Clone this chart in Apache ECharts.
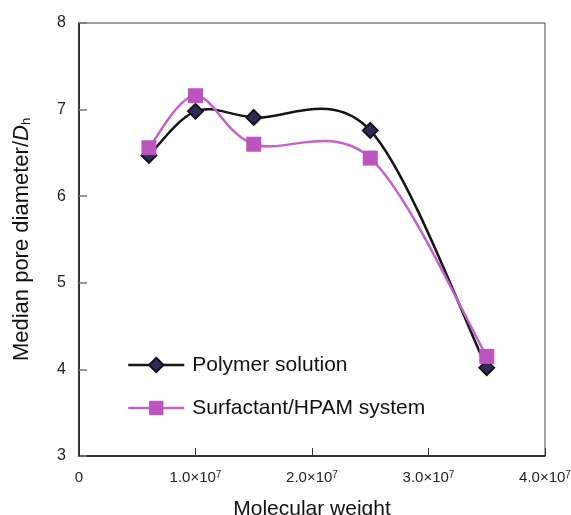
<!DOCTYPE html>
<html>
<head>
<meta charset="utf-8">
<script src="https://cdn.jsdelivr.net/npm/echarts@6/dist/echarts.min.js"></script>
<style>
	html, body { margin: 0; padding: 0; background: #fff; }
	#chart { width: 571px; height: 515px; }
</style>
</head>
<body>
<div id="chart"></div>
<script>
	// molecular weight of each sample
	var molWeight = [6e6, 1e7, 1.5e7, 2.5e7, 3.5e7];
	var polymerSolution = [6.47, 6.98, 6.91, 6.76, 4.02];
	var surfactantHpam = [6.56, 7.16, 6.60, 6.44, 4.15];
	var seriesNames = ['Polymer solution', 'Surfactant/HPAM system'];
	var xTickLabels = ['0', '1.0×10|7', '2.0×10|7', '3.0×10|7', '4.0×10|7'];

	var black = '#151515';
	var violet = '#c163c8';

	function pairs(xs, ys) {
		var out = [];
		for (var i = 0; i < xs.length; i++) {
			out.push([xs[i], ys[i]]);
		}
		return out;
	}

	function dist(a, b) {
		return Math.sqrt((a[0] - b[0]) * (a[0] - b[0]) + (a[1] - b[1]) * (a[1] - b[1]));
	}

	// spreadsheet-style smoothed segment between point i and i+1 (pixel space)
	function splineSeries(ys, color, z) {
		return {
			type: 'custom',
			silent: true,
			z: z,
			data: pairs(molWeight, ys),
			encode: { x: 0, y: 1 },
			renderItem: function (params, api) {
				var i = params.dataIndex;
				var n = ys.length;
				if (i >= n - 1) return;
				var pts = [];
				for (var j = 0; j < n; j++) {
					pts.push(api.coord([molWeight[j], ys[j]]));
				}
				var p0 = pts[Math.max(i - 1, 0)], p1 = pts[i], p2 = pts[i + 1], p3 = pts[Math.min(i + 2, n - 1)];
				var d02 = dist(p0, p2), d12 = dist(p1, p2), d13 = dist(p1, p3);
				var f0 = 1 / 6, f1 = 1 / 6;
				if (d02 / 6 >= d12 / 2 && d02 > 0) f0 = d12 / 2 / d02;
				if (d13 / 6 >= d12 / 2 && d13 > 0) f1 = d12 / 2 / d13;
				return {
					type: 'bezierCurve',
					shape: {
						x1: p1[0], y1: p1[1],
						x2: p2[0], y2: p2[1],
						cpx1: p1[0] + f0 * (p2[0] - p0[0]),
						cpy1: p1[1] + f0 * (p2[1] - p0[1]),
						cpx2: p2[0] - f1 * (p3[0] - p1[0]),
						cpy2: p2[1] - f1 * (p3[1] - p1[1])
					},
					style: { stroke: color, lineWidth: 2.5, fill: 'none' }
				};
			}
		};
	}

	var chart = echarts.init(document.getElementById('chart'));
	var font = 'Liberation Sans, Arial, sans-serif';

	var option = {
		animation: false,
		backgroundColor: '#fff',
		grid: {
			left: 79,
			right: 26,
			top: 23,
			bottom: 59,
			outerBoundsMode: 'none',
			containLabel: false,
			show: true,
			borderColor: '#444',
			borderWidth: 1
		},
		legend: {
			orient: 'vertical',
			left: 127,
			top: 354,
			padding: 0,
			itemWidth: 56,
			itemHeight: 18,
			itemGap: 21,
			data: [
				{ name: seriesNames[0], lineStyle: { color: black, width: 2.5, opacity: 1 } },
				{ name: seriesNames[1], lineStyle: { color: violet, width: 2.5, opacity: 1 } }
			],
			textStyle: {
				fontFamily: font,
				fontSize: 21,
				color: '#111',
				lineHeight: 22,
				padding: [0, 0, 0, 3]
			}
		},
		xAxis: {
			type: 'value',
			min: 0,
			max: 4e7,
			interval: 1e7,
			name: 'Molecular weight',
			nameLocation: 'middle',
			nameGap: 43,
			nameTextStyle: { fontFamily: font, fontSize: 21, color: '#111' },
			axisLine: { show: true, lineStyle: { color: '#111', width: 1.5 } },
			axisTick: { show: true, inside: true, length: 8, lineStyle: { color: '#333', width: 1 } },
			splitLine: { show: false },
			axisLabel: {
				margin: 14,
				formatter: function (v) {
					var t = xTickLabels[Math.round(v / 1e7)];
					var p = t.split('|');
					if (p.length === 1) return '{b|' + p[0] + '}';
					return '{b|' + p[0] + '}{s|' + p[1] + '}';
				},
				rich: {
					b: { fontFamily: font, fontSize: 15, color: '#222' },
					s: { fontFamily: font, fontSize: 10, color: '#222', verticalAlign: 'top', padding: [0, 0, 6, 0] }
				}
			}
		},
		yAxis: {
			type: 'value',
			min: 3,
			max: 8,
			interval: 1,
			name: '{n|Median pore diameter/}{i|D}{h|h}',
			nameLocation: 'middle',
			nameGap: 46,
			nameTextStyle: {
				rich: {
					n: { fontFamily: font, fontSize: 22, color: '#111' },
					i: { fontFamily: font, fontSize: 22, color: '#111', fontStyle: 'italic' },
					h: { fontFamily: font, fontSize: 13, color: '#111', verticalAlign: 'bottom', padding: [10, 0, 0, 0] }
				}
			},
			axisLine: { show: true, lineStyle: { color: '#111', width: 1.5 } },
			axisTick: { show: true, inside: true, length: 8, lineStyle: { color: '#777', width: 1.5 } },
			splitLine: { show: false },
			axisLabel: { margin: 13, fontFamily: font, fontSize: 16, color: '#222' }
		},
		series: [
			splineSeries(polymerSolution, black, 1),
			splineSeries(surfactantHpam, violet, 2),
			{
				name: seriesNames[0],
				type: 'line',
				data: pairs(molWeight, polymerSolution),
				symbol: 'diamond',
				symbolSize: 15,
				lineStyle: { color: black, width: 2.5, opacity: 0 },
				itemStyle: { color: '#2d2a58', borderColor: '#111', borderWidth: 1.8 },
				z: 3
			}, {
				name: seriesNames[1],
				type: 'line',
				data: pairs(molWeight, surfactantHpam),
				symbol: 'rect',
				symbolSize: 15,
				lineStyle: { color: violet, width: 2.5, opacity: 0 },
				itemStyle: { color: '#bb55bd', borderWidth: 0 },
				z: 4
			}
		]
	};

	chart.setOption(option);
</script>
</body>
</html>
